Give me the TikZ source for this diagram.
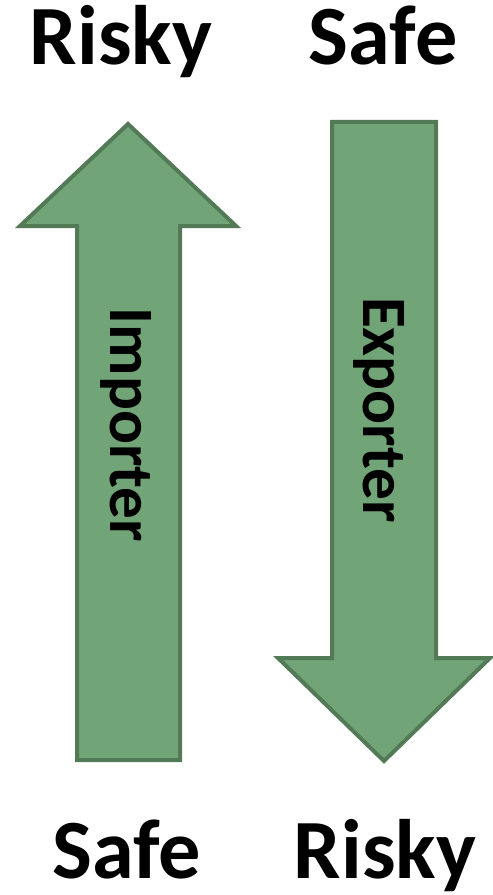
\documentclass[tikz,border=0pt]{standalone}
\usepackage{fontspec}
\setmainfont{Carlito}
\definecolor{verdeSeta}{RGB}{113,164,119}
\definecolor{verdeBorda}{RGB}{82,122,87}
\usetikzlibrary{positioning}
\tikzset{
  seta/.style={draw=verdeBorda, fill=verdeSeta, line width=0.08cm, line join=miter},
  rotulo/.style={anchor=base, inner sep=0pt, font=\fontsize{48}{56}\selectfont\bfseries},
  nomeseta/.style={anchor=base, inner sep=0pt, rotate=-90,
                   font=\fontsize{36}{42}\selectfont\bfseries},
}
\begin{document}
\begin{tikzpicture}[x=0.02cm, y=-0.02cm]
  \useasboundingbox (0,0) rectangle (493,895);
  % seta para cima (importador)
  \draw[seta] (128,124) -- (236,226) -- (180,226) -- (180,760) -- (77,760)
              -- (77,226) -- (20,226) -- cycle;
  % seta para baixo (exportador)
  \draw[seta] (332,122) -- (436,122) -- (436,658) -- (490,658) -- (384,761)
              -- (278,658) -- (332,658) -- cycle;
  \node[nomeseta] (imp) at (110,425) {Importer};
  \node[nomeseta] (exp) at (363,410) {Exporter};
  \node[rotulo] (riscoA) at (121,65) {Risky};
  \node[rotulo] (seguroA) at (383,65) {Safe};
  \node[rotulo] (seguroB) at (127,878) {Safe};
  \node[rotulo] (riscoB) at (385,878) {Risky};
\end{tikzpicture}
\end{document}
